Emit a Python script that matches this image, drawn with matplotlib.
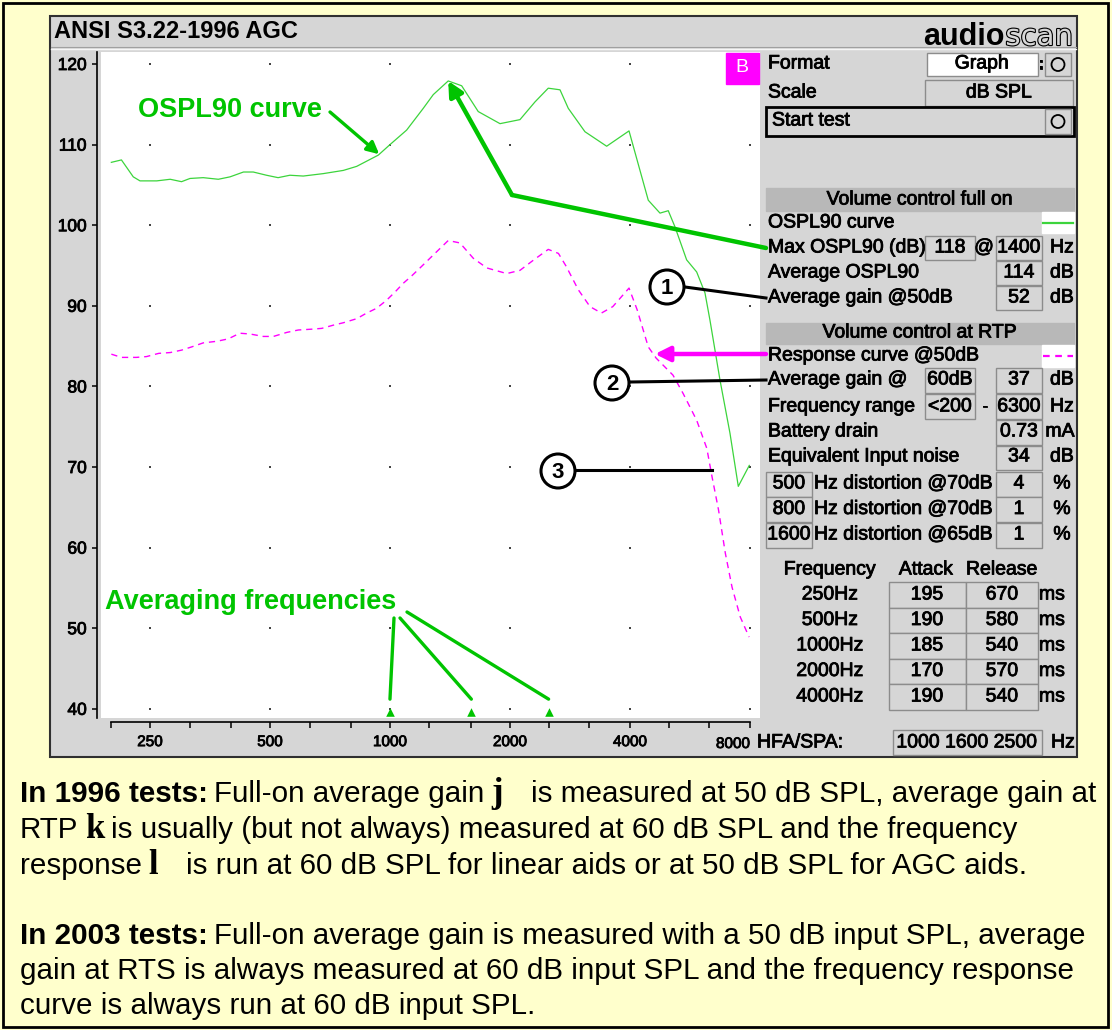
import numpy as np
import matplotlib.pyplot as plt
import matplotlib.patheffects as pe
from matplotlib.patches import Rectangle, Circle
from matplotlib.transforms import blended_transform_factory

plt.rcParams['font.family'] = ['Liberation Sans', 'DejaVu Sans']

# OSPL90 curve, volume control full on (Hz, dB SPL)
ospl_freq = [200, 212, 227, 236, 260, 281, 300, 315, 340, 371,
             397, 429, 454, 490, 524, 561, 606, 680, 764, 825,
             935, 1000, 1101, 1212, 1284, 1400, 1513, 1665, 1888, 2119,
             2311, 2495, 2670, 2801, 3084, 3496, 3978, 4238, 4446, 4757,
             4990, 5187, 5549, 5880, 6169, 6350, 6727, 7127, 7478, 7969]
ospl_db = [107.8, 108.1, 106.0, 105.5, 105.5, 105.7, 105.4, 105.8, 105.9, 105.7,
           106.0, 106.6, 106.6, 106.2, 105.9, 106.2, 106.1, 106.4, 106.8, 107.3,
           108.7, 110.0, 111.8, 114.5, 116.2, 117.9, 117.3, 114.1, 112.6, 113.1,
           115.3, 117.0, 116.8, 114.5, 111.6, 109.8, 111.7, 106.8, 103.1, 101.5,
           101.8, 99.8, 95.7, 94.2, 91.6, 88.2, 80.8, 74.2, 67.6, 70.2]

# response curve @50dB, volume control at RTP (Hz, dB SPL)
resp_freq = [200, 212, 231, 245, 263, 281, 300, 318, 340, 368,
             393, 420, 446, 481, 510, 551, 589, 636, 674, 721,
             764, 825, 874, 926, 981, 1029, 1080, 1133, 1201, 1284,
             1400, 1498, 1618, 1749, 1963, 2119, 2295, 2495, 2646, 2767,
             2967, 3175, 3392, 3622, 3978, 4170, 4446, 4655, 5128, 5440,
             5880, 6236, 6425, 6670, 6939, 7212, 7563, 7960]
resp_db = [84.0, 83.6, 83.6, 83.7, 84.1, 84.2, 84.5, 84.9, 85.4, 85.6,
           85.9, 86.6, 86.5, 86.2, 86.2, 86.7, 87.0, 87.1, 87.2, 87.6,
           87.9, 88.4, 89.1, 89.7, 90.7, 91.7, 92.8, 93.7, 94.9, 96.3,
           98.1, 97.8, 95.9, 94.7, 94.0, 94.4, 95.7, 97.0, 96.5, 94.9,
           92.0, 89.9, 89.1, 89.9, 92.2, 89.5, 84.9, 83.5, 81.4, 79.1,
           75.8, 72.3, 68.8, 64.7, 59.3, 55.1, 51.4, 48.9]

avg_freqs = [1000, 1600, 2500]   # HFA/SPA averaging frequencies
y_ticks = [40, 50, 60, 70, 80, 90, 100, 110, 120]
x_ticks = [200, 250, 315, 400, 500, 630, 800, 1000, 1250, 1600,
           2000, 2500, 3150, 4000, 5000, 6300, 8000]
x_labels = [250, 500, 1000, 2000, 4000, 8000]

# attack / release table
ar_freqs = ['250Hz', '500Hz', '1000Hz', '2000Hz', '4000Hz']
attack_ms = [195, 190, 185, 170, 190]
release_ms = [670, 580, 540, 570, 540]
# distortion rows: frequency, level, percent
dist_rows = [('500', '@70dB', '4'), ('800', '@70dB', '1'), ('1600', '@65dB', '1')]

GRAY = '#d6d6d6'
EDGE = '#8c8c8c'
BAND = '#b8b8b8'
GREEN = '#00c400'
CURVE_GREEN = '#3cd43c'
MAG = '#ff00ff'
FS = 14
HEAVY = [pe.withStroke(linewidth=0.6, foreground='black')]

W, H = 1112, 1030
fig = plt.figure(figsize=(W / 100, H / 100), dpi=100)
fig.patch.set_facecolor('#ffffcc')
renderer = fig.canvas.get_renderer()

# background layer in pixel coords
bg = fig.add_axes([0, 0, 1, 1], zorder=0)
bg.set_xlim(0, W)
bg.set_ylim(H, 0)
bg.axis('off')


def box(x0, y0, x1, y1, fc=GRAY, ec=EDGE, lw=1.0, where=bg):
    where.add_patch(Rectangle((x0, y0), x1 - x0, y1 - y0, fc=fc, ec=ec, lw=lw))


def txt(x, y, s, ha='left', size=FS, heavy=True, **kw):
    if heavy:
        kw.setdefault('path_effects', HEAVY)
    return bg.text(x, y, s, ha=ha, va='center', fontsize=size, **kw)


def run(x, y, parts):
    # place text pieces one after the other on a baseline
    for s, kw, gap in parts:
        t = bg.text(x, y, s, ha='left', va='baseline', **kw)
        x += t.get_window_extent(renderer).width + gap


bg.add_patch(Rectangle((3, 3), 1105, 1024, fill=False, ec='black', lw=2))
box(50, 16, 1077, 757, ec='#303030', lw=1.5)
bg.plot([51, 1076], [47, 47], color='#a0a0a0', lw=0.8)
bg.plot([51, 1076], [48.5, 48.5], color='#f6f6f6', lw=1)
txt(54, 32, 'ANSI S3.22-1996 AGC', size=17, weight='bold', heavy=False)

# audioscan logo
t_scan = bg.text(1073, 45, 'scan', ha='right', va='baseline', fontsize=21,
                 family='DejaVu Sans', color=GRAY,
                 path_effects=[pe.Stroke(linewidth=1.6, foreground='black'), pe.Normal()])
sx = t_scan.get_window_extent(renderer).x0
bg.text(sx - 1, 45, 'audio', ha='right', va='baseline', fontsize=22, weight='bold')

# top controls
txt(768, 64, 'Format')
box(927, 53, 1038, 76, fc='white')
txt(982, 64, 'Graph', ha='center')
txt(1041, 64, ':', ha='center', size=12, weight='bold')
box(1045, 53, 1071, 76)
bg.add_patch(Circle((1058, 64.5), 6.5, fill=False, ec='black', lw=1.3))
txt(768, 93, 'Scale')
box(925, 80, 1073, 106)
txt(999, 93, 'dB SPL', ha='center')
box(766, 107, 1074, 136, ec='black', lw=2)
txt(772, 121, 'Start test')
box(1045, 109, 1071, 134)
bg.add_patch(Circle((1058, 121.5), 6.5, fill=False, ec='black', lw=1.3))

# volume control full on
box(766, 188, 1074, 211, fc=BAND, ec=BAND)
txt(920, 200, 'Volume control full on', ha='center')
txt(768, 223, 'OSPL90 curve')
box(1042, 212, 1074, 233, fc='white', ec='white')
bg.plot([1043, 1073], [223, 223], color=CURVE_GREEN, lw=1.6)
txt(768, 248, 'Max OSPL90 (dB)')
box(925, 236, 975, 260)
txt(950, 248, '118', ha='center')
txt(984, 248, '@', ha='center')
box(996, 236, 1042, 260)
txt(1019, 248, '1400', ha='center')
txt(1062, 248, 'Hz', ha='center')
txt(768, 273, 'Average OSPL90')
box(996, 261, 1042, 285)
txt(1019, 273, '114', ha='center')
txt(1062, 273, 'dB', ha='center')
txt(768, 298, 'Average gain @50dB')
box(996, 286, 1042, 310)
txt(1019, 298, '52', ha='center')
txt(1062, 298, 'dB', ha='center')

# volume control at RTP
box(766, 323, 1074, 344, fc=BAND, ec=BAND)
txt(920, 333, 'Volume control at RTP', ha='center')
txt(768, 356, 'Response curve @50dB')
box(1042, 345, 1074, 367, fc='white', ec='white')
bg.plot([1043, 1073], [356, 356], color=MAG, lw=1.6, dashes=(3, 2.5))
txt(768, 380, 'Average gain @')
box(925, 368, 975, 393)
txt(950, 380, '60dB', ha='center')
box(996, 368, 1042, 393)
txt(1019, 380, '37', ha='center')
txt(1062, 380, 'dB', ha='center')
txt(768, 407, 'Frequency range')
box(925, 394, 975, 419)
txt(950, 407, '<200', ha='center')
txt(985, 407, '-', ha='center')
box(996, 394, 1042, 419)
txt(1019, 407, '6300', ha='center')
txt(1062, 407, 'Hz', ha='center')
txt(768, 432, 'Battery drain')
box(996, 420, 1042, 445)
txt(1019, 432, '0.73', ha='center')
txt(1060, 432, 'mA', ha='center')
txt(768, 457, 'Equivalent Input noise')
box(996, 446, 1042, 470)
txt(1019, 457, '34', ha='center')
txt(1062, 457, 'dB', ha='center')
for i, (fq, lvl, pct) in enumerate(dist_rows):
    yc = 484 + i * 25.5
    box(766, yc - 12.5, 812, yc + 12.5)
    txt(789, yc, fq, ha='center')
    txt(814, yc, 'Hz distortion ' + lvl)
    box(996, yc - 12.5, 1042, yc + 12.5)
    txt(1019, yc, pct, ha='center')
    txt(1062, yc, '%', ha='center')

txt(830, 570, 'Frequency', ha='center')
txt(926, 570, 'Attack', ha='center')
txt(1002, 570, 'Release', ha='center')
for i, fq in enumerate(ar_freqs):
    yc = 595 + i * 25.5
    txt(830, yc, fq, ha='center')
    box(889, yc - 12.7, 966, yc + 12.7)
    txt(927, yc, str(attack_ms[i]), ha='center')
    box(966, yc - 12.7, 1038, yc + 12.7)
    txt(1002, yc, str(release_ms[i]), ha='center')
    txt(1052, yc, 'ms', ha='center')

txt(757, 743, 'HFA/SPA:')
box(893, 730, 1042, 755)
txt(967, 743, ' '.join(str(f) for f in avg_freqs), ha='center')
txt(1063, 743, 'Hz', ha='center')

# explanatory text below the screen
N = dict(fontsize=21.3)
Bd = dict(fontsize=21.3, weight='bold')
J = dict(fontsize=25, weight='bold', family='Liberation Serif')
sp = 6.5
run(20, 802, [('In 1996 tests:', Bd, sp), ('Full-on average gain', N, sp),
              ('j', J, 28), ('is measured at 50 dB SPL, average gain at', N, 0)])
run(20, 838, [('RTP', N, sp), ('k', J, sp),
              ('is usually (but not always) measured at 60 dB SPL and the frequency', N, 0)])
run(20, 874, [('response', N, sp), ('l', J, 28),
              ('is run at 60 dB SPL for linear aids or at 50 dB SPL for AGC aids.', N, 0)])
run(20, 944, [('In 2003 tests:', Bd, sp),
              ('Full-on average gain is measured with a 50 dB input SPL, average', N, 0)])
run(20, 979, [('gain at RTS is always measured at 60 dB input SPL and the frequency response', N, 0)])
run(20, 1014, [('curve is always run at 60 dB input SPL.', N, 0)])

# graph area
L, R, T, B = 101, 760, 52, 718
ax = fig.add_axes([L / W, 1 - B / H, (R - L) / W, (B - T) / H], zorder=1)
ax.set_facecolor('white')
ax.set_xscale('log')
ax.set_xlim(188.4, 8477)
ax.set_ylim(38.86, 121.49)
ax.set_xticks(x_ticks)
# last label (8000) is drawn separately, right-aligned at its tick
ax.set_xticklabels([str(f) if f in x_labels[:-1] else '' for f in x_ticks])
ax.minorticks_off()
ax.set_yticks(y_ticks)
for s in ['top', 'right']:
    ax.spines[s].set_visible(False)
for s in ['left', 'bottom']:
    ax.spines[s].set_position(('outward', 3))
    ax.spines[s].set_linewidth(1.2)
ax.spines['bottom'].set_bounds(200, 8000)
ax.tick_params(axis='y', direction='out', length=3.8, width=1.1, labelsize=12.5, pad=3.5)
ax.tick_params(axis='x', direction='out', length=4.3, width=1.1, labelsize=11, pad=5)
for lab in ax.get_xticklabels() + ax.get_yticklabels():
    lab.set_path_effects(HEAVY)

gx, gy = np.meshgrid(x_labels, y_ticks)
ax.scatter(gx.ravel(), gy.ravel(), s=1.2, marker='s', color='#444444', linewidths=0, zorder=1)

ax.plot(ospl_freq, ospl_db, color=CURVE_GREEN, lw=0.9, zorder=2)
ax.plot(resp_freq, resp_db, color=MAG, lw=1.0, dashes=(4.5, 3.5), zorder=2)

tri = blended_transform_factory(ax.transData, ax.transAxes)
ax.scatter(avg_freqs, [0.009] * len(avg_freqs), transform=tri, marker='^', s=38,
           color=GREEN, linewidths=0, clip_on=False, zorder=3)

# annotation layer
ov = fig.add_axes([0, 0, 1, 1], zorder=2)
ov.set_xlim(0, W)
ov.set_ylim(H, 0)
ov.axis('off')

ov.annotate(str(x_labels[-1]), xy=(x_labels[-1], 0), xycoords=tri,
            xytext=(0, -19), textcoords='offset pixels', ha='right', va='top',
            fontsize=11, path_effects=HEAVY)

# B marker
box(726, 53, 759, 84, fc=MAG, ec=MAG, where=ov)
ov.text(742, 68, 'B', ha='center', va='center', fontsize=14, color='white')

ov.text(138, 110, 'OSPL90 curve', ha='left', va='center', fontsize=19.5,
        weight='bold', color=GREEN)
y_940 = np.interp(np.log(940), np.log(ospl_freq), ospl_db)
ov.annotate('', xy=(940, y_940), xycoords=ax.transData, xytext=(330, 112), textcoords='data',
            arrowprops=dict(arrowstyle='-|>', lw=2.4, color=GREEN,
                            mutation_scale=18, shrinkA=0, shrinkB=0))

ipk = int(np.argmax(ospl_db))
ov.plot([766, 512], [248, 195], color=GREEN, lw=3.2, solid_capstyle='round')
ov.annotate('', xy=(ospl_freq[ipk], ospl_db[ipk]), xycoords=ax.transData,
            xytext=(512, 195), textcoords='data',
            arrowprops=dict(arrowstyle='-|>', lw=3.2, color=GREEN,
                            mutation_scale=22, shrinkA=0, shrinkB=0))

ov.text(105, 602, 'Averaging frequencies', ha='left', va='center', fontsize=19.5,
        weight='bold', color=GREEN)
for f, start in zip(avg_freqs, [(394, 618), (400, 618), (407, 612)]):
    ov.annotate('', xy=(f, 41.2), xycoords=ax.transData, xytext=start, textcoords='data',
                arrowprops=dict(arrowstyle='-', lw=2.4, color=GREEN, shrinkA=0, shrinkB=0))

ov.annotate('', xy=(655, 354), xytext=(766, 354),
            arrowprops=dict(arrowstyle='-|>', lw=3.2, color=MAG,
                            mutation_scale=22, shrinkA=0, shrinkB=0))

for num, (cx, cy), (x1, y1), (x2, y2) in [('1', (667, 287), (685, 287), (766, 298)),
                                          ('2', (612, 383), (630, 382), (766, 380)),
                                          ('3', (558, 471), (576, 470), (712, 470))]:
    ov.plot([x1, x2], [y1, y2], color='black', lw=2.2)
    ov.add_patch(Circle((cx, cy), 17, fc='white', ec='black', lw=2.2))
    ov.text(cx, cy + 1, num, ha='center', va='center', fontsize=16, weight='bold')

fig.savefig('out.png', dpi=100, facecolor=fig.get_facecolor())
